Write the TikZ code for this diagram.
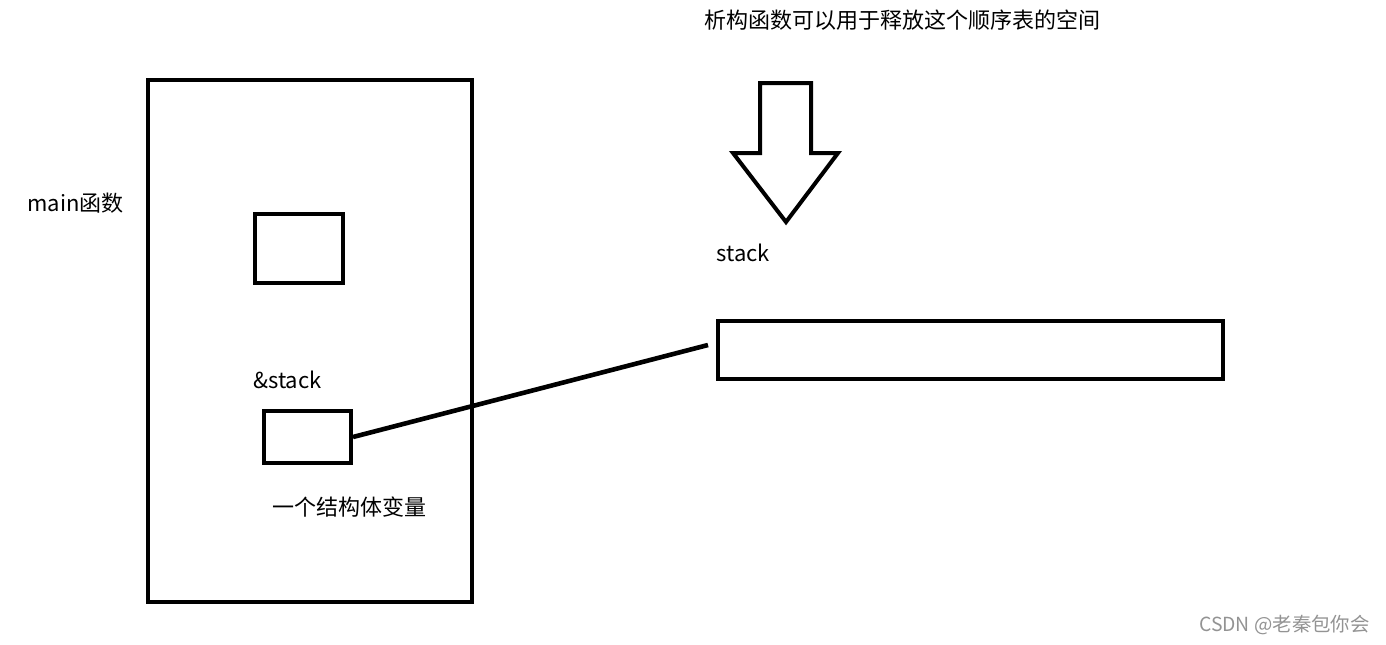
\documentclass[tikz,border=0pt]{standalone}
\usepackage{fontspec}
\setmainfont{Noto Sans CJK SC}
\begin{document}
\begin{tikzpicture}[x=0.5pt,y=-0.5pt,
  box/.style={draw,line width=2pt,inner sep=0pt},
  lbl/.style={inner sep=0pt,font=\fontsize{11}{13}\selectfont}]
\useasboundingbox (0,0) rectangle (1386,644);

\node[box,minimum width=162pt,minimum height=261pt] (mainframe) at (310,341) {};
\node[box,minimum width=44pt,minimum height=34.5pt] (topvar) at (299,248.5) {};
\node[box,minimum width=43.5pt,minimum height=26pt] (structvar) at (307.5,437) {};
\node[box,minimum width=252.5pt,minimum height=29pt] (stackmem) at (970.5,350) {};

\node[lbl,anchor=west] (mainlbl) at (27,203) {main函数};
\node[lbl,anchor=west] (addrlbl) at (253,380) {\&stack};
\node[lbl,anchor=west] (varlbl) at (272,507) {一个结构体变量};
\node[lbl,anchor=west] (stacklbl) at (716,253) {stack};
\node[lbl,anchor=west] (freelbl) at (704,20) {析构函数可以用于释放这个顺序表的空间};
\node[inner sep=0pt,anchor=east,text=gray!85,font=\fontsize{9.7}{11}\selectfont] (mark) at (1370,625) {CSDN @老秦包你会};

% pointer from the struct to the array
\coordinate (ptrend) at (708,345);
\draw[line width=2.3pt] (structvar.east) -- (ptrend);

% big hollow arrow
\draw[line width=2pt,line join=miter] (760,83) -- (811,83) -- (811,153) -- (838,153)
  -- (786,222) -- (733,153) -- (760,153) -- cycle;
\end{tikzpicture}
\end{document}
